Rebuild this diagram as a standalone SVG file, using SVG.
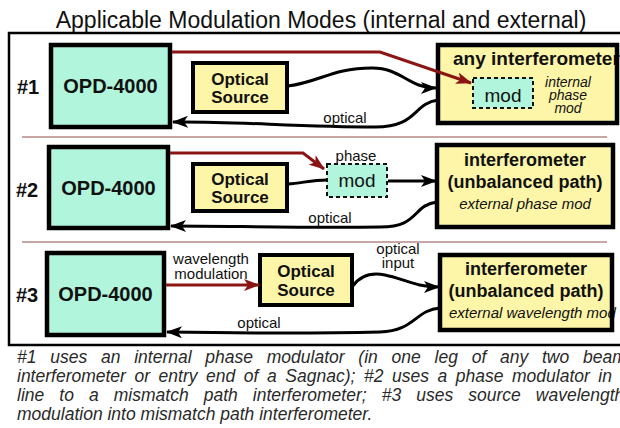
<svg xmlns="http://www.w3.org/2000/svg" width="620" height="428" viewBox="0 0 620 428">
<defs>
<style>
text{font-family:"Liberation Sans",Arial,sans-serif;fill:#111}
.b{font-weight:bold}
.it{font-style:italic}
.opd{fill:#b0f5dc;stroke:#000;stroke-width:4.5}
.src{fill:#fdf6a8;stroke:#000;stroke-width:4}
.ifm{fill:#fdf6a8}
.ifs{fill:none;stroke:#000;stroke-width:4.5}
.mod{fill:#b0f5dc;stroke:#111;stroke-width:2;stroke-dasharray:4 3}
.blk{fill:none;stroke:#000;stroke-width:3}
.red{fill:none;stroke:#8b1414;stroke-width:3}
.sep{stroke:#c8a6a6;stroke-width:2}
.cap{font-style:italic;font-size:17.5px;fill:#2a2a2a}
</style>
<marker id="ab" viewBox="0 0 16 12" refX="15" refY="6" markerWidth="16" markerHeight="12" markerUnits="userSpaceOnUse" orient="auto"><path d="M0,0 L16,6 L0,12 L4,6 z" fill="#000"/></marker>
<marker id="ar" viewBox="0 0 16 12" refX="15" refY="6" markerWidth="16" markerHeight="12" markerUnits="userSpaceOnUse" orient="auto"><path d="M0,0 L16,6 L0,12 L4,6 z" fill="#8b1414"/></marker>
</defs>
<rect width="620" height="428" fill="#fff"/>
<text x="321" y="28" font-size="23" text-anchor="middle" fill="#222">Applicable Modulation Modes (internal and external)</text>
<rect x="9" y="33" width="640" height="312" fill="none" stroke="#000" stroke-width="2.5"/>
<line class="sep" x1="22" y1="137" x2="607" y2="137"/>
<line class="sep" x1="22" y1="242" x2="607" y2="242"/>

<g id="labels">
<text class="b" x="17" y="94" font-size="20">#1</text>
<text class="b" x="16" y="197" font-size="20">#2</text>
<text class="b" x="16" y="302" font-size="20">#3</text>
</g>

<g id="opd1"><rect class="opd" x="51" y="45" width="119" height="82"/><text class="b" x="110.5" y="93" font-size="20" text-anchor="middle">OPD-4000</text></g>
<g id="src1"><rect class="src" x="193" y="63" width="94" height="49"/><text class="b" x="240" y="85" font-size="17" text-anchor="middle">Optical</text><text class="b" x="240" y="103" font-size="17" text-anchor="middle">Source</text></g>
<g id="ifm1"><rect class="ifm" x="438" y="45" width="179" height="78"/>
<text class="b" x="453" y="65" font-size="19">any interferometer</text>
<g id="mod1"><rect class="mod" x="473" y="78" width="60" height="30"/><text x="503" y="102" font-size="19" text-anchor="middle">mod</text></g>
<text class="it" x="568" y="87" font-size="14" text-anchor="middle" fill="#333">internal</text>
<text class="it" x="568" y="100" font-size="14" text-anchor="middle" fill="#333">phase</text>
<text class="it" x="568" y="113" font-size="14" text-anchor="middle" fill="#333">mod</text>
<rect class="ifs" x="438" y="45" width="179" height="78"/></g>

<g id="opd2"><rect class="opd" x="49" y="147" width="119" height="81"/><text class="b" x="108.5" y="194.5" font-size="20" text-anchor="middle">OPD-4000</text></g>
<g id="src2"><rect class="src" x="193" y="164" width="94" height="47"/><text class="b" x="240" y="185" font-size="17" text-anchor="middle">Optical</text><text class="b" x="240" y="203" font-size="17" text-anchor="middle">Source</text></g>
<g id="mod2"><rect class="mod" x="327" y="164" width="60" height="33"/><text x="357" y="187" font-size="19" text-anchor="middle">mod</text></g>
<g id="ifm2"><rect class="ifm" x="437" y="145" width="176" height="82"/>
<text class="b" x="525" y="166" font-size="18" text-anchor="middle">interferometer</text>
<text class="b" x="525" y="188" font-size="18" text-anchor="middle">(unbalanced path)</text>
<text class="it" x="525" y="209" font-size="15" text-anchor="middle" fill="#333">external phase mod</text>
<rect class="ifs" x="437" y="145" width="176" height="82"/></g>

<g id="opd3"><rect class="opd" x="47" y="253" width="117" height="82"/><text class="b" x="105.5" y="301" font-size="20" text-anchor="middle">OPD-4000</text></g>
<g id="src3"><rect class="src" x="260" y="255" width="92" height="50"/><text class="b" x="306" y="277" font-size="17" text-anchor="middle">Optical</text><text class="b" x="306" y="296" font-size="17" text-anchor="middle">Source</text></g>
<g id="ifm3"><rect class="ifm" x="440" y="255" width="172" height="75"/>
<text class="b" x="526" y="275" font-size="18" text-anchor="middle">interferometer</text>
<text class="b" x="526" y="297" font-size="18" text-anchor="middle">(unbalanced path)</text>
<text class="it" x="449" y="318" font-size="15" fill="#333">external wavelength mod</text>
<rect class="ifs" x="440" y="255" width="172" height="75"/></g>

<g id="connectors">
<path class="red" d="M172,52 L380,52 L471,83" marker-end="url(#ar)"/>
<path class="blk" d="M288,86 C320,82 332,68 372,68 C402,68 408,88 436,88" marker-end="url(#ab)"/>
<path class="blk" d="M438,100 C412,104 418,127 375,127 C300,127 230,121 173,122" marker-end="url(#ab)"/>
<text x="345" y="123" font-size="15" text-anchor="middle">optical</text>

<path class="red" d="M170,153 L303,153 L324,169" marker-end="url(#ar)"/>
<text x="356" y="161" font-size="15" text-anchor="middle">phase</text>
<path class="blk" d="M288,184 C302,183 312,180 327,180"/>
<path class="blk" d="M388,181 L436,181" marker-end="url(#ab)"/>
<path class="blk" d="M437,202 C412,205 420,227 380,227 C300,228 230,226 171,226" marker-end="url(#ab)"/>
<text x="330" y="223" font-size="15" text-anchor="middle">optical</text>

<path class="red" d="M166,285 L259,285" marker-end="url(#ar)"/>
<text x="211" y="264" font-size="15" text-anchor="middle">wavelength</text>
<text x="211" y="279" font-size="15" text-anchor="middle">modulation</text>
<path class="blk" d="M353,286 C360,276 370,272 385,275 C405,279 415,287 439,287" marker-end="url(#ab)"/>
<text x="398" y="254" font-size="15" text-anchor="middle">optical</text>
<text x="398" y="268" font-size="15" text-anchor="middle">input</text>
<path class="blk" d="M440,308 C415,310 415,331 380,332 C300,334 230,333 167,332" marker-end="url(#ab)"/>
<text x="259" y="328" font-size="15" text-anchor="middle">optical</text>
</g>

<g id="caption">
<text class="cap" x="17" y="363" word-spacing="8.9">#1 uses an internal phase modulator (in one leg of any two beam</text>
<text class="cap" x="17" y="382" word-spacing="3.7">interferometer or entry end of a Sagnac); #2 uses a phase modulator in</text>
<text class="cap" x="17" y="401" word-spacing="10.2">line to a mismatch path interferometer; #3 uses source wavelength</text>
<text class="cap" x="17" y="420">modulation into mismatch path interferometer.</text>
</g>
</svg>
